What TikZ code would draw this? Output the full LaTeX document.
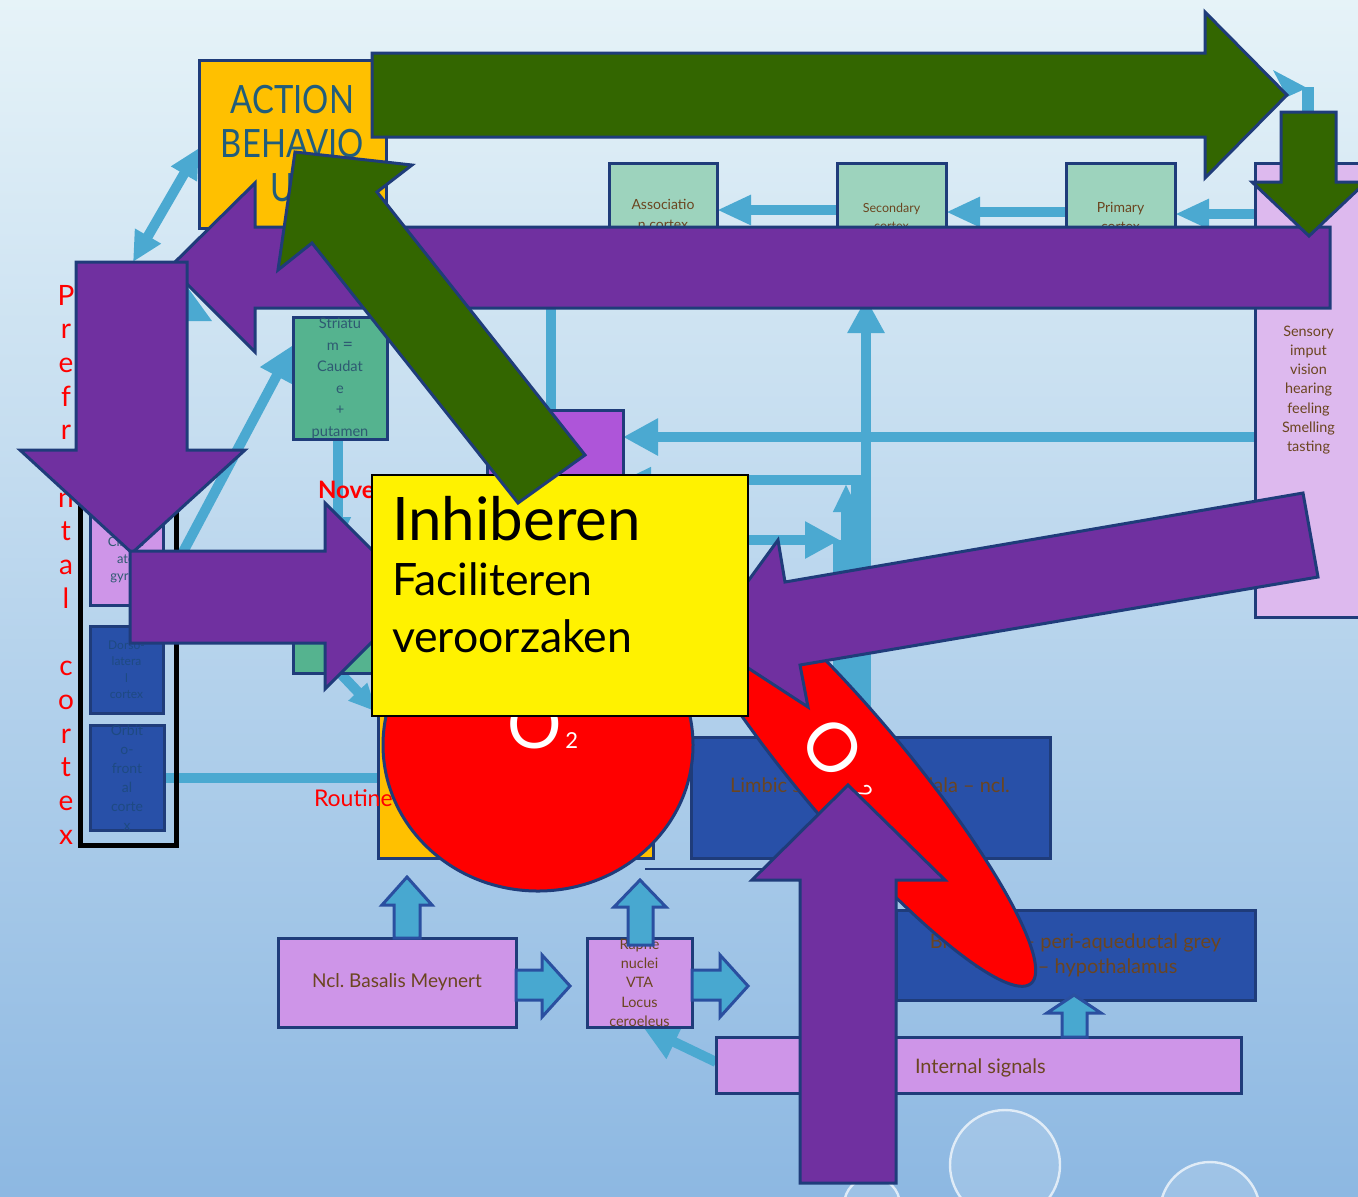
\documentclass[tikz,border=0pt]{standalone}
\usepackage{fontspec}
\setmainfont{Lato}
\usetikzlibrary{arrows.meta}
\definecolor{bgtop}{HTML}{E6F3F8}
\definecolor{bgbot}{HTML}{8DB8E2}
\definecolor{lblue}{HTML}{4BA9D1}
\definecolor{navy}{HTML}{1F3C7A}
\definecolor{purp}{HTML}{7030A0}
\definecolor{grn}{HTML}{336600}
\definecolor{orng}{HTML}{FFC000}
\definecolor{mint}{HTML}{9DD3BD}
\definecolor{lav}{HTML}{DDB9EE}
\definecolor{lavtwo}{HTML}{CE95E8}
\definecolor{orch}{HTML}{AE55D9}
\definecolor{strg}{HTML}{55B38F}
\definecolor{bbox}{HTML}{2850A8}
\definecolor{brwn}{HTML}{6B4520}
\definecolor{acttxt}{HTML}{215D7C}
\definecolor{slate}{HTML}{2E5A72}
\definecolor{dtxt}{HTML}{1E4A82}
\definecolor{bblue}{HTML}{48A8D0}
\definecolor{bline}{HTML}{2A4FA0}
\newcommand\fs[2]{\fontsize{#1}{#2}\selectfont}
\newcommand\mkbox[7][]{\node[box,#1,minimum width={(#5-#3)*0.5pt},minimum height={(#6-#4)*0.5pt}] (#2) at ({(#3+#5)/2},{(#4+#6)/2}) {#7};}
\pgfdeclarelayer{bgl}
\pgfdeclarelayer{lines}
\pgfsetlayers{bgl,lines,main}
\begin{document}
\begin{tikzpicture}[x=0.5pt,y=-0.5pt,
  box/.style={draw=navy,line width=1.5pt,inner sep=0pt,outer sep=0pt,align=center},
  conn/.style={draw=lblue,line width=5pt},
  tipB/.style={-{Triangle[length=17.5pt,width=17.5pt]}},
  tipM/.style={-{Triangle[length=17pt,width=14pt]}},
  tipS/.style={-{Triangle[length=14pt,width=12pt]}},
  parr/.style={fill=purp,draw=navy,line width=1.5pt},
  garr/.style={fill=grn,draw=navy,line width=1.5pt},
  barr/.style={fill=bblue,draw=bline,line width=1.5pt},
  lbl/.style={inner sep=0pt,outer sep=0pt},
  redball/.style={fill=red,draw=navy,line width=1.5pt},
  bubble/.style={draw=white,draw opacity=0.7,line width=1.2pt,fill=white,fill opacity=0.15}]
\useasboundingbox (0,0) rectangle (1358,1196);
\begin{pgfonlayer}{bgl}
  \shade[top color=bgtop,bottom color=bgbot] (0,0) rectangle (1358,1196);
  \draw[bubble] (1005,1165) circle [radius=55];
  \draw[bubble] (1210,1212) circle [radius=50];
  \draw[bubble] (872,1205) circle [radius=28];
\end{pgfonlayer}
\clip (0,0) rectangle (1358,1196);

% ---------- boxes ----------
\mkbox[fill=orng,text=acttxt,font=\fs{19.5}{22}]{act}{199}{60}{386}{228}{\scalebox{0.84}[1]{ACTION}\\\scalebox{0.84}[1]{BEHAVIO}\\\scalebox{0.84}[1]{UR}}
\mkbox[fill=mint,text=brwn,font=\fs{7}{10}]{assoc}{609}{163}{717}{265}{Associatio\\n cortex}
\mkbox[fill=mint,text=brwn,font=\fs{6.25}{9}]{sec}{837}{163}{946}{271}{Secondary\\cortex}
\mkbox[fill=mint,text=brwn,font=\fs{7}{9.5}]{prim}{1066}{163}{1175}{270}{Primary\\cortex}
\mkbox[fill=lav,text=brwn,font=\fs{7.2}{9.65}]{sens}{1255}{163}{1362}{617}{Sensory\\imput\\vision\\hearing\\feeling\\Smelling\\tasting}
\mkbox[fill=strg,text=slate,font=\fs{7.3}{10.8}]{str}{293}{320}{387}{437}{Striatu\\m {\fs{9}{9}=}\\Caudat\\e\\+\\putamen}
\mkbox[fill=strg]{strb}{293}{590}{400}{673}{}
\mkbox[fill=orch]{orchb}{487}{410}{623}{520}{}
\node[draw=black,line width=2.5pt,inner sep=0pt,minimum width=48pt,minimum height=222.5pt] (pfc) at (128,622.5) {};
\mkbox[fill=lavtwo]{cing}{90}{480}{163}{605}{}
\node[lbl,text=slate,font=\fs{6.5}{8.5},align=center] (cingt) at (126,560) {Cingul\\ate\\gyrus};
\mkbox[fill=bbox,text=dtxt,font=\fs{6}{8.25}]{dlpfc}{90}{626}{163}{713}{Dorso-\\latera\\l\\cortex}
\mkbox[fill=bbox,text=dtxt,font=\fs{7}{9.5}]{ofc}{90}{733}{164}{823}{Orbit\\o-\\front\\al\\corte\\x}
\mkbox[fill=orng]{hid}{378}{705}{653}{858}{}
\draw[navy,line width=1pt] (645,869) -- (800,869);
\mkbox[fill=bbox]{limb}{691}{737}{1050}{858}{}
\node[lbl,text=brwn,font=\fs{10}{12}] (limbt) at (870,787) {Limbic system – amygdala – ncl.};
\mkbox[fill=bbox,text=brwn,font=\fs{10}{12.5}]{bst}{896}{910}{1255}{1000}{Brainstem – peri-aqueductal grey\\– pons – hypothalamus}
\mkbox[fill=lavtwo,text=brwn,font=\fs{9.5}{11}]{bas}{278}{938}{516}{1027}{Ncl.\ Basalis Meynert}
\mkbox[fill=lavtwo,text=brwn,font=\fs{7.2}{9.65}]{rap}{587}{938}{692}{1027}{Raphe\\nuclei\\VTA\\Locus\\ceroeleus}
\mkbox[fill=lavtwo]{int}{716}{1037}{1241}{1093}{}
\node[lbl,text=brwn,font=\fs{10}{12},anchor=base west] (intt) at (915,1073) {Internal signals};

% ---------- thin connectors (behind boxes) ----------
\begin{pgfonlayer}{lines}
  \draw[conn,tipM] (sens.west |- 0,214) -- (prim.east |- 0,214);
  \draw[conn,tipM] (prim.west |- 0,212) -- (sec.east |- 0,212);
  \draw[conn,tipM] (sec.west |- 0,210) -- (assoc.east |- 0,210);
  \draw[conn,{Triangle[length=15pt,width=14pt]}-{Triangle[length=15pt,width=14pt]}] (133,262) -- (act.west |- 0,148);
  \draw[conn] (551,300) -- (orchb.north -| 551,0);
  \draw[conn,tipB] (limb.north -| 866,0) -- (866,298);
  \draw[conn,tipB] (sens.west |- 0,437) -- (orchb.east |- 0,437);
  \draw[conn,tipS] (limb.north -| 856,0) -- (856,480) -- (orchb.east |- 0,480);
  \draw[conn,tipS] (limb.north -| 846,0) -- (846,484);
  \draw[conn,tipB] (700,540) -- (840,540);
  \draw[conn] (838,540) -- (limb.north -| 838,0);
  \draw[conn,tipS] (str.south -| 338,0) -- (338,545);
  \draw[conn,tipB] (183,552) -- (str.west |- 0,345);
  \draw[conn,tipS] (strb.south -| 340,0) -- (377,712);
  \draw[conn] (ofc.east |- 0,778) -- (390,778);
  \draw[conn,tipB] (int.west |- 0,1062) -- (643,1027);
  \fill[lblue] (1273,70) -- (1307,88) -- (1287,97) -- cycle;
  \fill[lblue] (1302,87) rectangle (1314,114);
  \fill[lblue] (188,288) -- (212,321) -- (188,321) -- cycle;
\end{pgfonlayer}

% ---------- red labels ----------
\foreach \c [count=\i from 0] in {P,r,e,f,r,o,n,t,a,l,{},c,o,r,t,e,x}
  \node[lbl,text=red,font=\fs{14}{14},anchor=base] (pf\i) at (66,{305+33.7*\i}) {\c};
\node[lbl,text=red,font=\fs{12}{12}\bfseries,anchor=base west] (nov) at (318,498) {Novelty};
\node[lbl,text=red,font=\fs{11.5}{12},anchor=base west] (rout) at (314,806) {Routine};

% ---------- blue block arrows ----------
\draw[barr] (394,938) -- (394,905) -- (382,905) -- (407,877) -- (432,905) -- (420,905) -- (420,938) -- cycle;
\draw[barr] (628,945) -- (628,907) -- (614,907) -- (640,880) -- (666,907) -- (653,907) -- (653,945) -- cycle;
\draw[barr] (516,970) -- (542,970) -- (542,955) -- (570,986) -- (542,1017) -- (542,1000) -- (516,1000) -- cycle;
\draw[barr] (692,970) -- (720,970) -- (720,955) -- (748,986) -- (720,1017) -- (720,1000) -- (692,1000) -- cycle;
\draw[barr] (1062,1037) -- (1062,1013) -- (1047,1013) -- (1074,995) -- (1101,1013) -- (1087,1013) -- (1087,1037) -- cycle;

% ---------- red shapes ----------
\draw[redball] (538,745) ellipse [x radius=155, y radius=146];
\node[lbl,text=white,font=\fs{34}{34},anchor=base west] (otwoa) at (507,748) {O\hspace{2pt}{\fs{11}{11}2}};
\draw[redball,rotate around={-50:(851,769)}] (851,769) ellipse [x radius=280, y radius=54];
\node[lbl,text=white,font=\fs{34}{34},rotate=-50,anchor=base west] (otwob) at (796,742) {O\hspace{11pt}\raisebox{6pt}{\fs{11}{11}2}};

% ---------- purple block arrows ----------
\draw[parr] (1330,227) -- (255,227) -- (255,183) -- (170,267) -- (255,352) -- (255,308) -- (1330,308) -- cycle;
\draw[parr] (76,262) -- (187,262) -- (187,450) -- (245,450) -- (132,553) -- (20,450) -- (76,450) -- cycle;
\draw[parr] (130,551) -- (325,551) -- (325,503) -- (418,596) -- (325,689) -- (325,643) -- (130,643) -- cycle;
\draw[parr] (1303,493) -- (785,582) -- (778,540) -- (705,640) -- (808,707) -- (800,665) -- (1318,577) -- cycle;
\draw[parr] (800,1183) -- (800,880) -- (752,880) -- (848,785) -- (945,880) -- (896,880) -- (896,1183) -- cycle;

% ---------- yellow box ----------
\node[draw=black,line width=1.2pt,fill=yellow,inner sep=0pt,minimum width=188pt,minimum height=120.5pt] (yel) at (560,595.5) {};
\node[lbl,font=\fs{30}{30},anchor=base west] (inh) at (392,540) {Inhiberen};
\node[lbl,font=\fs{22.3}{22.3},anchor=base west] (fac) at (392,595) {Faciliteren};
\node[lbl,font=\fs{22.3}{22.3},anchor=base west] (ver) at (392,652) {veroorzaken};

% ---------- green block arrows ----------
\draw[garr] (372,53) -- (1205,53) -- (1205,12) -- (1287,95) -- (1205,178) -- (1205,137) -- (372,137) -- cycle;
\draw[garr] (1281,112) -- (1336,112) -- (1336,182) -- (1366,182) -- (1309,236) -- (1252,182) -- (1281,182) -- cycle;
\draw[garr] (295,152) -- (412,165) -- (377,192) -- (585,455) -- (518,503) -- (312,243) -- (278,270) -- cycle;
\end{tikzpicture}
\end{document}
